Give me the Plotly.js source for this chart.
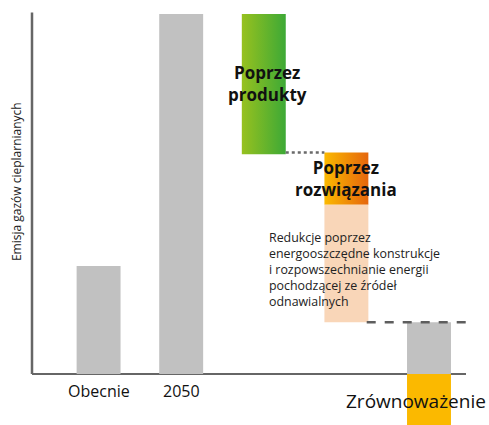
<!DOCTYPE html>
<html>
<head>
<meta charset="utf-8">
<script src="https://cdn.plot.ly/plotly-3.0.1.min.js"></script>
<style>html,body{margin:0;padding:0;background:#fff;}#chart{width:489px;height:425px;}</style>
</head>
<body>
<div id="chart"></div>
<script>
// Data (arbitrary emission units, 2050 = 100)
const categories = ["Obecnie", "2050", "Poprzez produkty", "Poprzez rozwiązania", "Zrównoważenie"];
const grayValues = [30, 100, 14.4];           // Obecnie, 2050, remaining at Zrównoważenie
const grayIdx = [0, 1, 4];
const productsFrom = 100, productsTo = 61;     // reduction through products
const solutionsFrom = 61.5, solutionsMid = 47, solutionsTo = 14.4; // reduction through solutions
const offsetValue = -14.2;                      // compensation below zero
const labelTexts = ["Obecnie", "2050", "", "", "Zrównoważenie"];

const W = 0.266; // half bar width in category units
const gray = "#c1c1c1";

function rect(i, y0, y1) {
  return {x: [i - W, i + W, i + W, i - W, i - W], y: [y1, y1, y0, y0, y1]};
}

const traces = [];
traces.push({type: "bar", x: grayIdx, y: grayValues, base: 0, width: 2 * W,
  marker: {color: gray, line: {width: 0}}, hoverinfo: "skip", showlegend: false});
traces.push({type: "bar", x: [4], y: [offsetValue], base: 0, width: 2 * W,
  marker: {color: "#fbb900", line: {width: 0}}, hoverinfo: "skip", showlegend: false});

const g = rect(2, productsTo, productsFrom);
traces.push({type: "scatter", mode: "lines", x: g.x, y: g.y, fill: "toself",
  line: {width: 0}, fillgradient: {type: "horizontal", colorscale: [[0, "#97c11f"], [1, "#3da936"]]},
  hoverinfo: "skip", showlegend: false});

const o = rect(3, solutionsMid, solutionsFrom);
traces.push({type: "scatter", mode: "lines", x: o.x, y: o.y, fill: "toself",
  line: {width: 0}, fillgradient: {type: "horizontal", colorscale: [[0, "#fbb900"], [1, "#e5660d"]]},
  hoverinfo: "skip", showlegend: false});

const p = rect(3, solutionsTo, solutionsMid);
traces.push({type: "scatter", mode: "lines", x: p.x, y: p.y, fill: "toself",
  line: {width: 0}, fillcolor: "#f9d6b8", hoverinfo: "skip", showlegend: false});

// connector lines
traces.push({type: "scatter", mode: "lines", x: [2 + W, 3 - W], y: [solutionsFrom, solutionsFrom],
  line: {color: "#6a6a6a", width: 2.5, dash: "3px,3px"}, hoverinfo: "skip", showlegend: false});
traces.push({type: "scatter", mode: "lines", x: [3 + W - 0.02, 4.45], y: [solutionsTo, solutionsTo],
  line: {color: "#5e5e5e", width: 2.5, dash: "9px,9px"}, hoverinfo: "skip", showlegend: false});

const font = "Open Sans, Noto Sans, sans-serif";
const annotations = [];
labelTexts.forEach((t, i) => {
  if (!t) return;
  const big = i === 4;
  annotations.push({x: i + (big ? -0.16 : 0), y: 0, xref: "x", yref: "y", text: t, showarrow: false,
    yanchor: "middle", xanchor: "center", yshift: big ? -27 : -17,
    font: {family: font, size: big ? 19 : 16, color: "#111"}});
});
annotations.push({x: 2.04, y: 80.8, text: "<b>Poprzez<br>produkty</b>", showarrow: false,
  font: {family: font, size: 17, color: "#111"}, xanchor: "center", yanchor: "middle"});
annotations.push({x: 3, y: 54.2, text: "<b>Poprzez<br>rozwiązania</b>", showarrow: false,
  font: {family: font, size: 17, color: "#111"}, xanchor: "center", yanchor: "middle"});
annotations.push({x: 3, y: 28.9, xshift: -79, text:
  "Redukcje poprzez<br>energooszczędne konstrukcje<br>i rozpowszechnianie energii<br>pochodzącej ze źródeł<br>odnawialnych",
  showarrow: false, align: "left", xanchor: "left", yanchor: "middle",
  font: {family: font, size: 12.4, color: "#222"}});
annotations.push({x: 0, y: 53.3, xref: "paper", yref: "y", xshift: -16, textangle: -90,
  text: "Emisja gazów cieplarnianych", showarrow: false, xanchor: "center", yanchor: "middle",
  font: {family: font, size: 12, color: "#222"}});

const layout = {
  width: 489, height: 425,
  margin: {l: 32, r: 23, t: 10, b: 0},
  paper_bgcolor: "#fff", plot_bgcolor: "#fff",
  barmode: "overlay",
  xaxis: {range: [-0.806, 4.448], showgrid: false, zeroline: false, showticklabels: false,
    ticks: "", showline: false, fixedrange: true},
  yaxis: {range: [-14.17, 101.1], showgrid: false, zeroline: true, zerolinecolor: "#666",
    zerolinewidth: 2.5, showticklabels: false, ticks: "", showline: false, fixedrange: true},
  shapes: [{type: "line", xref: "paper", yref: "y", x0: 0, x1: 0, y0: 0, y1: 100.4,
    line: {color: "#666", width: 2.5}}],
  annotations: annotations,
  showlegend: false
};

Plotly.newPlot("chart", traces, layout, {displayModeBar: false, staticPlot: true});
</script>
</body>
</html>
